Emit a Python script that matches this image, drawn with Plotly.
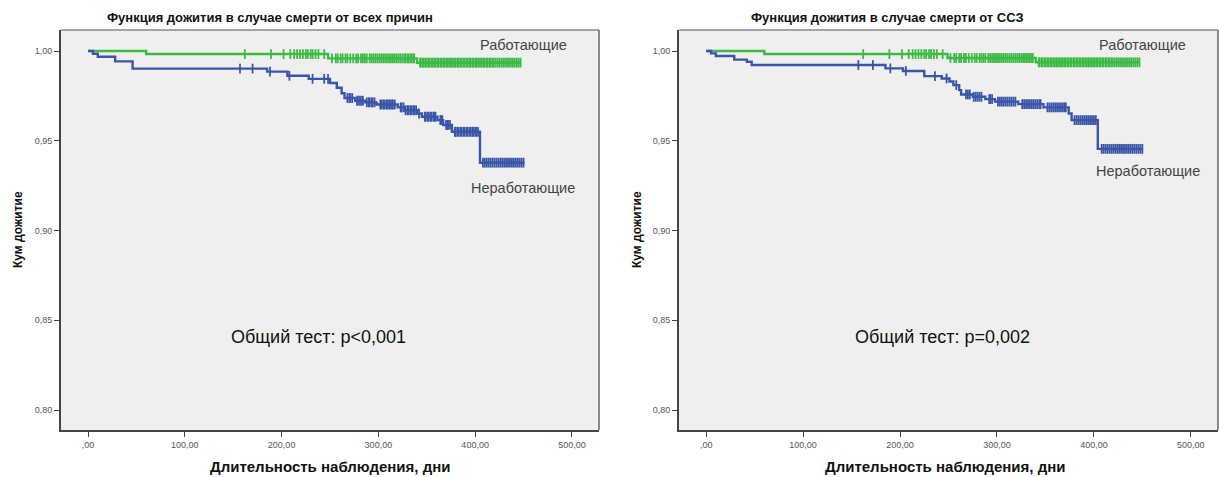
import numpy as np
import plotly.graph_objects as go

# ---- Kaplan-Meier data: event times (days) and survival level after each event ----
# Panel 1: all-cause mortality
work_all_t = [0, 60, 248, 340]
work_all_s = [1.000, 0.9983, 0.9959, 0.9935]
work_all_end = 447
work_all_cens = [162, 189, 202, 209, 213, 216, 219, 222, 225, 227, 230, 232, 235, 238,
                 244, 252, 256, 258, 261, 263, 266, 268, 271, 274, 277, 279, 282, 284,
                 286, 288, 291, 293, 295, 297, 299, 301, 303, 305, 307, 309, 311, 313,
                 315, 317, 319, 321, 323, 325, 327, 328, 330, 331, 333, 334, 336, 337,
                 343, 344, 346, 347, 349, 350, 352, 353, 355, 356, 358, 359, 361, 362,
                 364, 365, 367, 368, 370, 371, 373, 374, 376, 377, 379, 380, 382, 383,
                 385, 386, 388, 389, 391, 392, 394, 395, 397, 398, 400, 401, 403, 404,
                 406, 407, 409, 410, 412, 413, 415, 416, 418, 419, 421, 423, 425, 427,
                 429, 431, 433, 435, 437, 439, 441, 443, 445, 447]

nonw_all_t = [0, 5, 10, 28, 46, 185, 206, 228, 250, 257, 262, 265, 276, 286, 298,
              320, 327, 340, 345, 361, 367, 376, 405]
nonw_all_s = [1.000, 0.9985, 0.9968, 0.9942, 0.9902, 0.9885, 0.9862, 0.9845, 0.9822,
              0.9795, 0.9765, 0.9738, 0.9723, 0.9714, 0.9702, 0.9686, 0.9670, 0.9652,
              0.9634, 0.9615, 0.9588, 0.9550, 0.9378]
nonw_all_end = 451
nonw_all_cens = [157, 170, 188, 208, 232, 244, 248, 268, 270, 271, 273, 278, 280, 282,
                 284, 288, 290, 291, 293, 294, 296, 302, 303, 305, 306, 308, 309, 311,
                 312, 314, 315, 317, 323, 324, 326, 328, 330, 331, 333, 334, 336, 337,
                 339, 342, 348, 349, 351, 352, 354, 355, 357, 358, 359, 364, 365, 366,
                 370, 371, 372, 374, 379, 380, 382, 383, 385, 386, 388, 389, 391, 392,
                 394, 395, 397, 398, 400, 401, 403, 408, 410, 412, 414, 416, 418, 420,
                 422, 424, 426, 428, 430, 432, 434, 436, 438, 440, 442, 444, 446, 448,
                 450]

# Panel 2: cardiovascular mortality
work_cvd_t = [0, 60, 249, 340]
work_cvd_s = [1.000, 0.9983, 0.9961, 0.9937]
work_cvd_end = 447
work_cvd_cens = work_all_cens

nonw_cvd_t = [0, 5, 10, 29, 42, 47, 185, 203, 225, 243, 251, 255, 261, 263, 275,
              288, 298, 322, 348, 374, 377, 404]
nonw_cvd_s = [1.000, 0.9987, 0.9972, 0.9952, 0.9940, 0.9922, 0.9903, 0.9889, 0.9860,
              0.9847, 0.9830, 0.9810, 0.9782, 0.9758, 0.9745, 0.9732, 0.9718, 0.9704,
              0.9686, 0.9652, 0.9615, 0.9455]
nonw_cvd_end = 450
nonw_cvd_cens = [157, 172, 190, 206, 236, 248, 258, 268, 270, 272, 276, 278, 280, 282,
                 284, 292, 293, 295, 301, 303, 305, 307, 309, 311, 313, 315, 317, 319,
                 326, 328, 330, 332, 334, 336, 338, 340, 342, 344, 345, 352, 354, 356,
                 358, 360, 362, 364, 366, 368, 370, 371, 380, 382, 384, 386, 388, 390,
                 392, 394, 396, 398, 400, 402, 408, 410, 412, 414, 416, 418, 420, 422,
                 424, 426, 428, 430, 432, 434, 436, 438, 440, 442, 444, 446, 448, 450]

panel_titles = ["Функция дожития в случае смерти от всех причин",
                "Функция дожития в случае смерти от ССЗ"]
p_texts = ["Общий тест: p<0,001", "Общий тест: p=0,002"]
group_names = ["Работающие", "Неработающие"]
x_title = "Длительность наблюдения, дни"
y_title = "Кум дожитие"
x_ticks = [0, 100, 200, 300, 400, 500]
x_ticktext = [",00", "100,00", "200,00", "300,00", "400,00", "500,00"]
y_ticks = [0.80, 0.85, 0.90, 0.95, 1.00]
y_ticktext = ["0,80", "0,85", "0,90", "0,95", "1,00"]

GREEN = "#3dba46"
BLUE = "#3b55a8"
FONT = "Liberation Sans"

fig = go.Figure()


def add_km(t, s, end, cens, color, xa, ya, lw):
    xs = list(t) + [end]
    ys = list(s) + [s[-1]]
    fig.add_trace(go.Scatter(x=xs, y=ys, mode="lines", line=dict(color=color, width=lw, shape="hv"),
                             xaxis=xa, yaxis=ya, showlegend=False, hoverinfo="skip"))
    idx = np.searchsorted(np.array(t), np.array(cens), side="right") - 1
    cy = np.array(s)[idx]
    fig.add_trace(go.Scatter(x=cens, y=cy, mode="markers",
                             marker=dict(symbol="line-ns", size=7, line=dict(color=color, width=1.8)),
                             xaxis=xa, yaxis=ya, showlegend=False, hoverinfo="skip"))


add_km(work_all_t, work_all_s, work_all_end, work_all_cens, GREEN, "x", "y", 2.4)
add_km(nonw_all_t, nonw_all_s, nonw_all_end, nonw_all_cens, BLUE, "x", "y", 2.4)
add_km(work_cvd_t, work_cvd_s, work_cvd_end, work_cvd_cens, GREEN, "x2", "y2", 2.4)
add_km(nonw_cvd_t, nonw_cvd_s, nonw_cvd_end, nonw_cvd_cens, BLUE, "x2", "y2", 2.4)

W, H = 1219, 477
x_doms = [[61 / W, 599 / W], [679 / W, 1218 / W]]
y_dom = [1 - 430 / H, 1 - 30 / H]

xcommon = dict(range=[-28, 528], tickvals=x_ticks, ticktext=x_ticktext, ticks="outside",
               ticklen=5, tickwidth=1, tickcolor="#444", showgrid=False, zeroline=False,
               showline=True, linecolor="#444", linewidth=2,
               tickfont=dict(family=FONT, size=9, color="#555"))
ycommon = dict(range=[0.7889, 1.0117], tickvals=y_ticks, ticktext=y_ticktext, ticks="outside",
               ticklen=5, tickwidth=1, tickcolor="#444", showgrid=False, zeroline=False,
               showline=True, linecolor="#444", linewidth=2,
               tickfont=dict(family=FONT, size=9, color="#555"))

fig.update_layout(
    width=W, height=H, margin=dict(l=0, r=0, t=0, b=0),
    paper_bgcolor="white", plot_bgcolor="#efefef",
    xaxis=dict(domain=x_doms[0], anchor="y", **xcommon),
    yaxis=dict(domain=y_dom, anchor="x", **ycommon),
    xaxis2=dict(domain=x_doms[1], anchor="y2", **xcommon),
    yaxis2=dict(domain=y_dom, anchor="x2", **ycommon),
)

annotations = []
shapes = []
label_pos = [
    # (working label x, y, non-working label x, y) in data coords
    (403, 1.0033, 394, 0.9237),
    (403, 1.0033, 400, 0.9331),
]
title_x = [270 / W, 887 / W]
xtitle_x = [330 / W, 945 / W]
ytitle_x = [18 / W, 637 / W]
ptext_x = [238, 244]
for i in range(2):
    xa = "x" if i == 0 else "x2"
    ya = "y" if i == 0 else "y2"
    annotations.append(dict(text=f"<b>{panel_titles[i]}</b>", x=title_x[i], y=1 - 18 / H,
                            xref="paper", yref="paper", xanchor="center", yanchor="middle",
                            showarrow=False, font=dict(family=FONT, size=13, color="#111")))
    annotations.append(dict(text=f"<b>{x_title}</b>", x=xtitle_x[i], y=1 - 466 / H,
                            xref="paper", yref="paper", xanchor="center", yanchor="middle",
                            showarrow=False, font=dict(family=FONT, size=15, color="#111")))
    annotations.append(dict(text=f"<b>{y_title}</b>", x=ytitle_x[i], y=1 - 230 / H, textangle=-90,
                            xref="paper", yref="paper", xanchor="center", yanchor="middle",
                            showarrow=False, font=dict(family=FONT, size=12, color="#111")))
    wx, wy, nx, ny = label_pos[i]
    annotations.append(dict(text=group_names[0], x=wx, y=wy, xref=xa, yref=ya, xanchor="left",
                            yanchor="middle", showarrow=False,
                            font=dict(family=FONT, size=14.5, color="#444")))
    annotations.append(dict(text=group_names[1], x=nx, y=ny, xref=xa, yref=ya, xanchor="left",
                            yanchor="middle", showarrow=False,
                            font=dict(family=FONT, size=14.5, color="#444")))
    annotations.append(dict(text=p_texts[i], x=ptext_x[i], y=0.8407, xref=xa, yref=ya,
                            xanchor="center", yanchor="middle", showarrow=False,
                            font=dict(family=FONT, size=18, color="#111")))
    # lighter top and right frame edges
    shapes.append(dict(type="line", xref=f"{xa} domain", yref=f"{ya} domain",
                       x0=0, x1=1, y0=1, y1=1, line=dict(color="#888", width=1.5)))
    shapes.append(dict(type="line", xref=f"{xa} domain", yref=f"{ya} domain",
                       x0=1, x1=1, y0=0, y1=1, line=dict(color="#666", width=1.5)))

fig.update_layout(annotations=annotations, shapes=shapes)
fig.write_html("out.html")
